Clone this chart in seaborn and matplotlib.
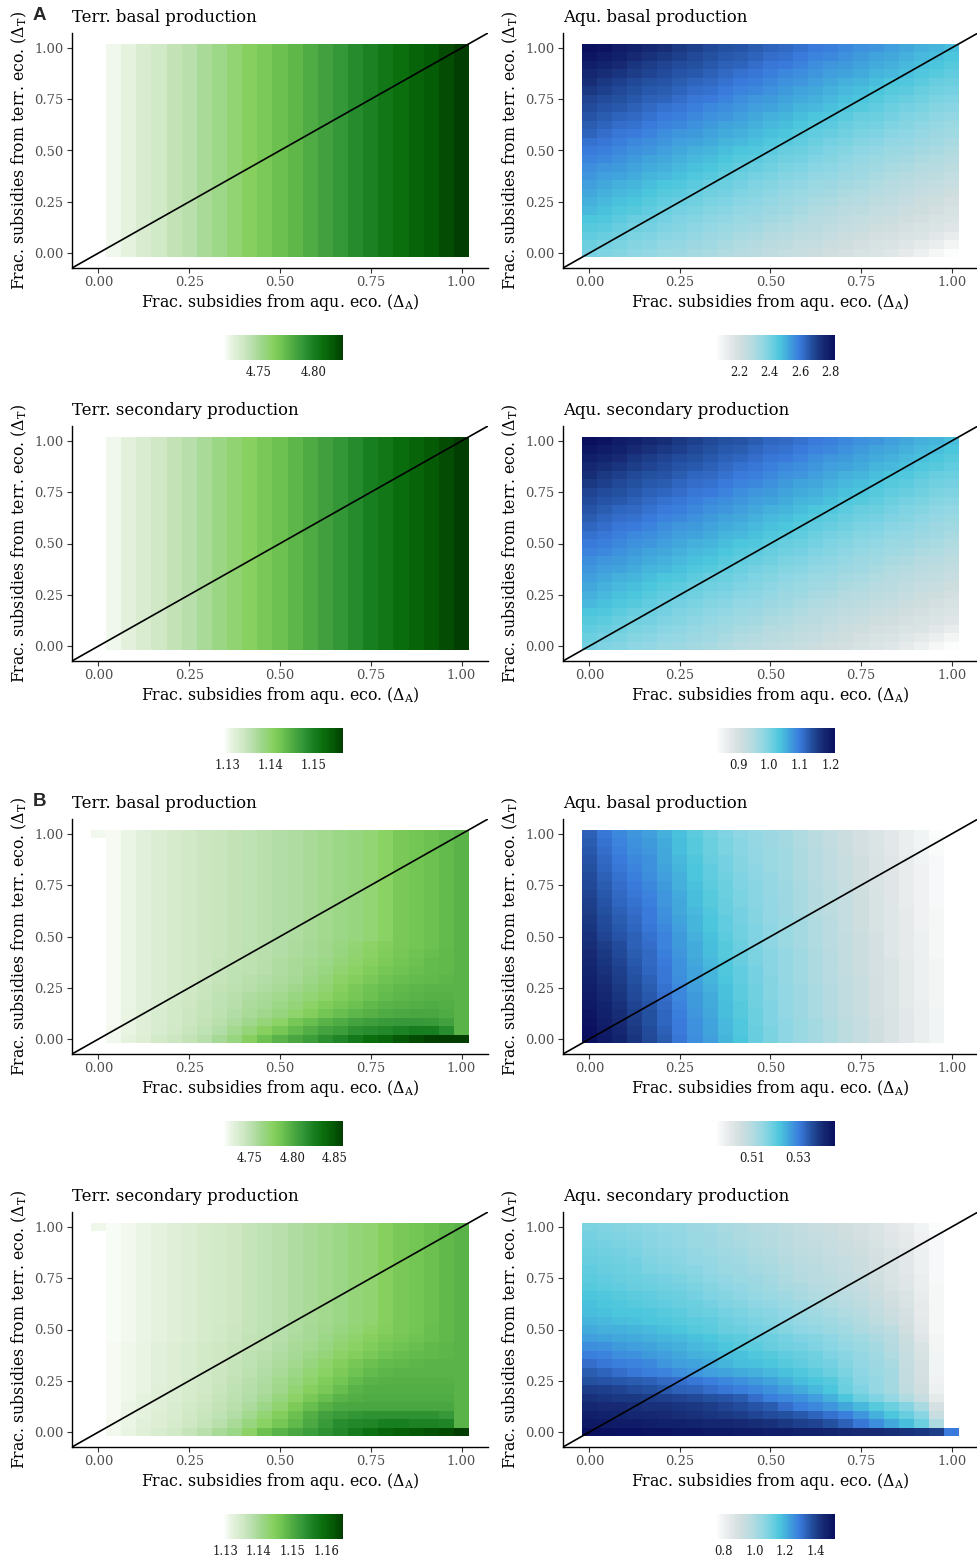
import numpy as np
import pandas as pd
import matplotlib
matplotlib.use("Agg")
import matplotlib.pyplot as plt
import seaborn as sns
from matplotlib.colors import LinearSegmentedColormap

NA = float("nan")

# ---------------- data ----------------
# grid of subsidy fractions (25 x 25 cells)
delta_A = [0.0, 0.042, 0.083, 0.125, 0.167, 0.208, 0.25, 0.292, 0.333, 0.375, 0.417, 0.458, 0.5,
           0.542, 0.583, 0.625, 0.667, 0.708, 0.75, 0.792, 0.833, 0.875, 0.917, 0.958, 1.0]
delta_T = list(delta_A)
axis_ticks = [0.0, 0.25, 0.5, 0.75, 1.0]
axis_tick_labels = ["0.00", "0.25", "0.50", "0.75", "1.00"]

# A - Terr. production: depends on Delta_A only (one value per column)
A_terr_basal_cols = [4.717, 4.722, 4.726, 4.731, 4.735, 4.740, 4.744, 4.749, 4.753, 4.758, 4.763, 4.767, 4.772,
                     4.776, 4.781, 4.785, 4.790, 4.795, 4.799, 4.804, 4.808, 4.813, 4.817, 4.822, 4.827]
A_terr_secondary_cols = [1.1290, 1.1302, 1.1313, 1.1325, 1.1336, 1.1348, 1.1359, 1.1371, 1.1382, 1.1394, 1.1405,
                         1.1417, 1.1428, 1.1440, 1.1452, 1.1463, 1.1475, 1.1486, 1.1498, 1.1509, 1.1521, 1.1532,
                         1.1544, 1.1555, 1.1567]

# remaining panels: level read from the colour (0 = colourbar minimum, 100 = maximum),
# rows listed from Delta_T = 1.00 (top) down to Delta_T = 0.00 (bottom)
A_aqu_levels = [
    [100, 98, 95, 93, 91, 89, 86, 84, 82, 80, 79, 77, 75, 74, 72, 70, 69, 67, 65, 64, 62, 60, 58, 57, 55],
    [97, 95, 93, 90, 88, 86, 84, 82, 80, 78, 77, 75, 73, 72, 70, 68, 67, 65, 63, 61, 60, 58, 56, 55, 53],
    [94, 92, 90, 87, 85, 83, 81, 80, 78, 76, 75, 73, 71, 70, 68, 66, 64, 63, 61, 59, 58, 56, 54, 53, 51],
    [91, 89, 87, 85, 83, 81, 79, 78, 76, 74, 72, 71, 69, 67, 66, 64, 62, 61, 59, 57, 56, 54, 52, 51, 49],
    [89, 86, 84, 82, 80, 79, 77, 75, 74, 72, 70, 69, 67, 65, 64, 62, 60, 58, 57, 55, 53, 52, 50, 48, 47],
    [86, 84, 82, 80, 78, 77, 75, 73, 72, 70, 68, 67, 65, 63, 61, 60, 58, 56, 55, 53, 51, 50, 48, 46, 45],
    [83, 81, 80, 78, 76, 75, 73, 71, 70, 68, 66, 64, 63, 61, 59, 58, 56, 54, 53, 51, 49, 48, 46, 44, 43],
    [81, 79, 78, 76, 74, 72, 71, 69, 67, 66, 64, 62, 61, 59, 57, 56, 54, 52, 51, 49, 47, 45, 44, 42, 41],
    [79, 77, 75, 74, 72, 70, 69, 67, 65, 64, 62, 60, 58, 57, 55, 53, 52, 50, 48, 47, 45, 43, 42, 40, 39],
    [77, 75, 73, 72, 70, 68, 67, 65, 63, 61, 60, 58, 56, 55, 53, 51, 50, 48, 46, 45, 43, 42, 40, 38, 37],
    [75, 73, 71, 70, 68, 66, 64, 63, 61, 59, 58, 56, 54, 53, 51, 49, 48, 46, 44, 43, 41, 40, 38, 36, 35],
    [72, 71, 69, 67, 66, 64, 62, 61, 59, 57, 56, 54, 52, 51, 49, 47, 45, 44, 42, 41, 39, 38, 36, 35, 33],
    [70, 69, 67, 65, 64, 62, 60, 58, 57, 55, 53, 52, 50, 48, 47, 45, 43, 42, 40, 39, 37, 36, 34, 33, 31],
    [68, 67, 65, 63, 61, 60, 58, 56, 55, 53, 51, 50, 48, 46, 45, 43, 42, 40, 38, 37, 35, 34, 32, 31, 29],
    [66, 64, 63, 61, 59, 58, 56, 54, 53, 51, 49, 48, 46, 44, 43, 41, 40, 38, 36, 35, 33, 32, 30, 29, 27],
    [64, 62, 61, 59, 57, 56, 54, 52, 51, 49, 47, 45, 44, 42, 41, 39, 38, 36, 35, 33, 31, 30, 28, 27, 25],
    [62, 60, 58, 57, 55, 53, 52, 50, 48, 47, 45, 43, 42, 40, 39, 37, 36, 34, 33, 31, 29, 28, 26, 25, 23],
    [60, 58, 56, 55, 53, 51, 50, 48, 46, 45, 43, 42, 40, 38, 37, 35, 34, 32, 31, 29, 28, 26, 24, 23, 21],
    [58, 56, 54, 53, 51, 49, 48, 46, 44, 43, 41, 40, 38, 36, 35, 33, 32, 30, 29, 27, 26, 24, 22, 21, 19],
    [56, 54, 52, 51, 49, 47, 45, 44, 42, 41, 39, 38, 36, 35, 33, 31, 30, 28, 27, 25, 24, 22, 21, 19, 17],
    [53, 52, 50, 48, 47, 45, 43, 42, 40, 39, 37, 36, 34, 33, 31, 29, 28, 26, 25, 23, 22, 20, 19, 17, 15],
    [51, 50, 48, 46, 45, 43, 42, 40, 38, 37, 35, 34, 32, 31, 29, 28, 26, 24, 23, 21, 20, 18, 17, 15, 13],
    [49, 48, 46, 44, 43, 41, 40, 38, 36, 35, 33, 32, 30, 29, 27, 26, 24, 22, 21, 19, 18, 16, 15, 12, 9],
    [47, 45, 44, 42, 41, 39, 38, 36, 35, 33, 31, 30, 28, 27, 25, 24, 22, 21, 19, 17, 16, 14, 11, 8, 4],
    [45, 43, 42, 40, 39, 37, 36, 34, 33, 31, 29, 28, 26, 25, 23, 22, 20, 19, 17, 15, 14, 10, 7, 3, 0],
]

B_terr_basal_levels = [
    [4, 3, 6, 9, 12, 14, 16, 18, 19, 21, 22, 24, 26, 27, 29, 31, 33, 35, 37, 41, 46, 48, 50, 52, 55],
    [0, 3, 6, 9, 12, 14, 16, 18, 19, 21, 22, 24, 26, 27, 29, 31, 33, 35, 37, 41, 46, 48, 50, 52, 55],
    [0, 3, 6, 9, 12, 14, 16, 18, 19, 21, 22, 24, 26, 27, 29, 31, 33, 35, 37, 41, 46, 48, 50, 52, 55],
    [0, 3, 6, 9, 12, 14, 16, 18, 19, 21, 22, 24, 26, 27, 29, 31, 33, 35, 37, 41, 46, 48, 50, 52, 55],
    [0, 3, 6, 9, 12, 14, 16, 18, 19, 21, 22, 24, 26, 27, 29, 31, 33, 35, 37, 41, 46, 48, 50, 52, 55],
    [0, 3, 6, 9, 12, 14, 16, 18, 19, 21, 22, 24, 26, 27, 29, 31, 33, 35, 37, 41, 46, 48, 50, 52, 55],
    [0, 3, 6, 9, 12, 14, 16, 18, 19, 21, 22, 24, 26, 27, 29, 31, 33, 35, 37, 41, 46, 48, 50, 52, 55],
    [0, 3, 6, 9, 12, 14, 16, 18, 19, 21, 22, 24, 26, 27, 29, 31, 33, 35, 37, 41, 46, 48, 50, 52, 55],
    [0, 3, 6, 9, 12, 14, 16, 18, 19, 21, 22, 24, 26, 27, 29, 31, 33, 35, 37, 41, 46, 48, 50, 52, 55],
    [0, 3, 6, 9, 12, 14, 16, 18, 19, 21, 22, 24, 26, 27, 29, 31, 33, 35, 37, 41, 46, 48, 50, 52, 55],
    [0, 3, 6, 9, 12, 14, 16, 18, 19, 21, 22, 24, 26, 27, 29, 31, 33, 35, 37, 41, 46, 48, 50, 52, 55],
    [0, 3, 6, 9, 12, 14, 16, 18, 19, 21, 22, 24, 26, 27, 29, 31, 33, 35, 37, 41, 46, 48, 50, 52, 55],
    [0, 3, 6, 9, 12, 14, 16, 18, 19, 21, 22, 24, 26, 27, 29, 31, 33, 35, 37, 41, 46, 48, 50, 52, 55],
    [0, 3, 6, 9, 12, 14, 16, 18, 19, 21, 22, 24, 26, 28, 30, 32, 34, 37, 40, 43, 46, 48, 50, 52, 55],
    [0, 3, 6, 9, 12, 14, 16, 18, 19, 21, 23, 24, 26, 28, 30, 32, 35, 38, 41, 44, 47, 49, 51, 53, 55],
    [0, 3, 6, 9, 12, 14, 16, 18, 20, 21, 23, 25, 27, 29, 31, 33, 36, 39, 42, 45, 48, 50, 52, 53, 55],
    [0, 3, 6, 9, 12, 14, 16, 18, 20, 22, 23, 25, 27, 29, 32, 34, 38, 41, 44, 47, 49, 51, 52, 53, 55],
    [0, 3, 6, 9, 12, 14, 16, 18, 20, 22, 24, 26, 28, 30, 33, 36, 40, 43, 46, 49, 51, 52, 53, 54, 55],
    [0, 3, 6, 9, 12, 14, 16, 19, 21, 23, 25, 27, 29, 32, 35, 38, 42, 46, 49, 51, 53, 54, 55, 55, 55],
    [0, 3, 6, 9, 12, 14, 17, 19, 22, 24, 27, 29, 31, 34, 37, 40, 44, 47, 50, 52, 54, 55, 56, 56, 55],
    [0, 3, 6, 9, 12, 15, 17, 20, 22, 25, 28, 30, 33, 36, 40, 44, 47, 50, 53, 55, 56, 57, 58, 57, 55],
    [0, 3, 7, 10, 13, 15, 18, 20, 23, 26, 29, 32, 35, 39, 43, 48, 51, 54, 56, 58, 59, 60, 60, 58, 55],
    [0, 3, 7, 10, 13, 15, 18, 21, 24, 28, 32, 36, 40, 47, 51, 55, 58, 61, 63, 65, 66, 66, 65, 62, 55],
    [0, 4, 7, 10, 13, 16, 19, 22, 26, 31, 36, 42, 47, 52, 57, 61, 64, 68, 70, 72, 74, 76, 75, 70, 55],
    [0, 4, 8, 11, 15, 18, 21, 25, 30, 35, 42, 50, 55, 60, 64, 69, 73, 78, 83, 86, 92, 96, 99, 100, 100],
]

B_terr_secondary_levels = [
    [5, 2, 4, 6, 8, 10, 12, 14, 15, 17, 20, 22, 24, 27, 29, 31, 33, 36, 38, 42, 46, 48, 50, 53, 55],
    [0, 2, 4, 6, 8, 10, 12, 14, 15, 17, 20, 22, 24, 27, 29, 31, 33, 36, 38, 42, 46, 48, 50, 53, 55],
    [0, 2, 4, 6, 8, 10, 12, 14, 15, 17, 20, 22, 24, 27, 29, 31, 33, 36, 38, 42, 46, 48, 50, 53, 55],
    [0, 2, 4, 6, 8, 10, 12, 14, 15, 17, 20, 22, 24, 27, 29, 31, 33, 36, 38, 42, 46, 48, 50, 53, 55],
    [0, 2, 4, 6, 8, 10, 12, 14, 15, 17, 20, 22, 24, 27, 29, 31, 33, 36, 38, 42, 46, 48, 50, 53, 55],
    [0, 2, 4, 6, 8, 10, 12, 14, 15, 17, 20, 22, 24, 27, 29, 31, 33, 36, 38, 42, 46, 48, 50, 53, 55],
    [0, 2, 4, 6, 8, 10, 12, 14, 15, 17, 20, 22, 24, 27, 29, 31, 33, 36, 38, 42, 46, 48, 50, 53, 55],
    [0, 2, 4, 6, 8, 10, 12, 14, 15, 17, 20, 22, 24, 27, 29, 31, 33, 36, 38, 42, 46, 48, 50, 53, 55],
    [0, 2, 4, 6, 8, 10, 12, 14, 15, 17, 20, 22, 24, 27, 29, 31, 33, 36, 38, 42, 46, 48, 50, 53, 55],
    [0, 2, 4, 6, 8, 10, 12, 14, 15, 17, 20, 22, 24, 27, 29, 31, 33, 36, 38, 42, 46, 48, 50, 53, 55],
    [0, 2, 4, 6, 8, 10, 12, 14, 15, 17, 20, 22, 24, 27, 29, 31, 33, 36, 38, 42, 46, 48, 50, 53, 55],
    [0, 2, 4, 6, 8, 10, 12, 14, 15, 17, 20, 22, 24, 27, 29, 31, 33, 36, 38, 42, 46, 48, 50, 53, 55],
    [0, 2, 4, 6, 8, 10, 12, 14, 16, 18, 20, 22, 25, 27, 30, 32, 34, 37, 40, 43, 46, 48, 51, 53, 55],
    [0, 2, 4, 6, 8, 10, 12, 14, 16, 18, 21, 23, 25, 28, 30, 33, 36, 39, 42, 45, 47, 49, 51, 53, 55],
    [0, 3, 5, 7, 9, 11, 13, 15, 17, 19, 21, 23, 26, 29, 31, 34, 38, 41, 44, 47, 49, 51, 53, 54, 55],
    [0, 3, 5, 7, 9, 11, 13, 15, 17, 19, 22, 24, 27, 30, 33, 36, 40, 43, 46, 49, 51, 52, 53, 54, 55],
    [0, 3, 5, 7, 9, 11, 13, 15, 17, 20, 22, 25, 28, 31, 35, 39, 43, 47, 50, 52, 53, 54, 55, 55, 55],
    [0, 3, 5, 7, 9, 11, 13, 16, 18, 20, 23, 26, 29, 33, 37, 41, 45, 49, 52, 54, 55, 55, 55, 55, 55],
    [0, 3, 5, 7, 9, 11, 14, 16, 18, 21, 24, 27, 31, 35, 39, 44, 48, 52, 55, 56, 56, 56, 56, 56, 55],
    [0, 3, 5, 7, 10, 12, 14, 16, 19, 22, 25, 28, 32, 37, 42, 46, 51, 55, 57, 57, 57, 57, 57, 57, 55],
    [0, 3, 5, 8, 10, 12, 14, 17, 20, 23, 26, 30, 35, 40, 46, 51, 55, 57, 58, 58, 58, 58, 58, 58, 55],
    [0, 3, 6, 8, 10, 13, 15, 18, 21, 24, 28, 33, 38, 45, 51, 56, 59, 60, 60, 60, 60, 60, 60, 60, 55],
    [0, 3, 6, 8, 11, 13, 16, 19, 22, 26, 31, 37, 43, 50, 57, 62, 65, 67, 68, 68, 68, 68, 68, 66, 55],
    [0, 4, 6, 9, 11, 14, 17, 20, 24, 29, 35, 41, 47, 53, 59, 65, 70, 72, 73, 75, 75, 74, 74, 73, 55],
    [0, 4, 7, 10, 13, 16, 20, 24, 29, 33, 40, 50, 55, 60, 64, 68, 72, 77, 82, 86, 89, 92, 94, 96, 100],
]

B_aqu_basal_levels = [
    [76, 71, 67, 64, 62, 58, 54, 50, 46, 43, 40, 38, 36, 34, 31, 28, 25, 22, 19, 15, 12, 8, 5, 0, NA],
    [77, 72, 68, 65, 63, 59, 55, 51, 47, 44, 41, 38, 36, 34, 31, 28, 25, 22, 19, 15, 12, 8, 5, 1, NA],
    [78, 73, 69, 66, 64, 60, 55, 51, 47, 44, 41, 39, 37, 35, 32, 29, 26, 22, 19, 15, 12, 8, 5, 1, NA],
    [79, 74, 70, 67, 65, 60, 56, 52, 48, 45, 42, 39, 37, 35, 32, 29, 26, 23, 20, 16, 13, 9, 5, 2, NA],
    [80, 75, 71, 68, 65, 61, 57, 53, 49, 45, 42, 40, 37, 35, 32, 29, 26, 23, 20, 16, 13, 9, 6, 2, NA],
    [81, 76, 72, 69, 66, 62, 58, 53, 49, 46, 43, 40, 38, 35, 32, 29, 26, 23, 20, 16, 13, 9, 6, 2, NA],
    [82, 77, 73, 70, 67, 63, 58, 54, 50, 47, 43, 41, 38, 36, 33, 30, 27, 23, 20, 16, 13, 9, 6, 2, NA],
    [83, 78, 74, 71, 68, 64, 59, 55, 51, 47, 44, 41, 38, 36, 33, 30, 27, 24, 21, 17, 13, 9, 6, 2, NA],
    [84, 79, 75, 72, 69, 64, 60, 55, 51, 48, 44, 41, 39, 36, 33, 30, 27, 24, 21, 17, 13, 9, 6, 2, NA],
    [85, 80, 76, 73, 70, 65, 60, 56, 52, 48, 45, 42, 39, 36, 33, 30, 27, 24, 21, 17, 14, 10, 6, 3, NA],
    [86, 81, 77, 74, 70, 66, 61, 57, 53, 49, 45, 42, 39, 37, 34, 31, 28, 24, 21, 17, 14, 10, 6, 3, NA],
    [87, 82, 78, 75, 71, 67, 62, 57, 53, 49, 46, 43, 40, 37, 34, 31, 28, 24, 21, 17, 14, 10, 6, 3, NA],
    [88, 83, 79, 76, 72, 68, 63, 58, 54, 50, 46, 43, 40, 37, 34, 31, 28, 25, 22, 18, 14, 10, 7, 3, NA],
    [89, 85, 81, 76, 73, 68, 63, 59, 55, 51, 47, 43, 40, 37, 34, 31, 28, 25, 22, 18, 14, 10, 7, 3, NA],
    [90, 86, 82, 77, 74, 69, 64, 59, 55, 51, 48, 44, 41, 38, 35, 32, 29, 25, 22, 18, 14, 10, 7, 3, NA],
    [91, 87, 83, 78, 74, 70, 65, 60, 56, 52, 48, 44, 41, 38, 35, 32, 29, 25, 22, 18, 15, 11, 7, 4, NA],
    [92, 88, 84, 79, 75, 71, 65, 61, 57, 52, 49, 45, 41, 38, 35, 32, 29, 25, 22, 18, 15, 11, 7, 4, NA],
    [93, 89, 85, 80, 76, 71, 66, 61, 57, 53, 49, 45, 42, 38, 35, 32, 29, 26, 23, 19, 15, 11, 7, 4, NA],
    [94, 90, 86, 81, 77, 72, 67, 62, 58, 54, 50, 46, 42, 39, 36, 33, 30, 26, 23, 19, 15, 11, 7, 4, NA],
    [95, 91, 87, 82, 78, 73, 67, 63, 59, 54, 50, 46, 42, 39, 36, 33, 30, 26, 23, 19, 15, 11, 7, 4, NA],
    [96, 92, 88, 83, 79, 74, 68, 63, 59, 55, 51, 46, 43, 39, 36, 33, 30, 26, 23, 19, 15, 11, 8, 4, NA],
    [97, 93, 89, 84, 80, 75, 69, 64, 60, 55, 51, 47, 43, 39, 36, 33, 30, 26, 23, 19, 16, 12, 8, 5, NA],
    [98, 94, 90, 85, 80, 75, 70, 65, 61, 56, 52, 47, 43, 40, 37, 34, 31, 27, 24, 20, 16, 12, 8, 5, NA],
    [99, 95, 91, 86, 81, 76, 70, 65, 61, 56, 52, 48, 44, 40, 37, 34, 31, 27, 24, 20, 16, 12, 8, 5, NA],
    [100, 96, 92, 87, 82, 77, 71, 66, 62, 57, 53, 48, 44, 40, 37, 34, 31, 27, 24, 20, 16, 12, 8, 5, NA],
]

B_aqu_secondary_levels = [
    [44, 43, 42, 41, 40, 39, 38, 36, 35, 33, 32, 30, 29, 27, 25, 23, 22, 20, 18, 15, 12, 9, 5, 0, NA],
    [45, 44, 43, 42, 41, 40, 39, 37, 36, 34, 32, 31, 30, 28, 26, 24, 23, 21, 19, 16, 13, 10, 6, 2, NA],
    [46, 45, 44, 43, 41, 40, 39, 37, 36, 34, 33, 31, 30, 28, 26, 25, 23, 22, 20, 17, 14, 11, 6, 2, NA],
    [47, 46, 45, 44, 42, 41, 40, 38, 37, 35, 34, 32, 31, 29, 27, 26, 24, 22, 21, 18, 15, 12, 7, 2, NA],
    [48, 47, 46, 45, 43, 42, 41, 39, 38, 36, 35, 33, 32, 30, 28, 27, 25, 24, 22, 19, 15, 12, 7, 2, NA],
    [49, 48, 47, 46, 44, 43, 42, 41, 39, 37, 36, 34, 33, 31, 29, 28, 26, 24, 22, 19, 16, 12, 7, 2, NA],
    [50, 49, 48, 47, 46, 45, 44, 42, 40, 39, 37, 36, 34, 32, 30, 28, 27, 25, 23, 20, 16, 13, 8, 2, NA],
    [51, 50, 49, 48, 47, 46, 45, 44, 42, 40, 39, 37, 35, 33, 32, 30, 28, 26, 24, 21, 17, 14, 8, 3, NA],
    [53, 52, 51, 50, 49, 48, 47, 45, 43, 42, 40, 38, 37, 35, 33, 31, 30, 28, 26, 22, 19, 15, 9, 3, NA],
    [54, 53, 52, 51, 50, 49, 48, 47, 45, 43, 42, 40, 39, 37, 35, 33, 31, 29, 27, 24, 20, 16, 10, 3, NA],
    [55, 54, 53, 53, 52, 51, 50, 48, 47, 45, 44, 42, 41, 39, 37, 35, 33, 31, 29, 25, 22, 18, 10, 3, NA],
    [57, 56, 55, 54, 53, 52, 51, 50, 49, 47, 45, 44, 42, 40, 38, 37, 35, 33, 31, 27, 23, 19, 11, 3, NA],
    [59, 58, 58, 57, 56, 54, 53, 51, 50, 48, 47, 45, 44, 42, 40, 39, 37, 35, 32, 30, 27, 20, 12, 3, NA],
    [62, 61, 60, 59, 58, 57, 56, 54, 53, 51, 50, 48, 47, 45, 43, 42, 40, 37, 35, 32, 29, 22, 13, 4, NA],
    [66, 65, 63, 62, 61, 59, 58, 56, 55, 53, 51, 50, 48, 46, 45, 43, 41, 39, 37, 34, 30, 23, 16, 4, NA],
    [69, 68, 66, 65, 63, 62, 60, 58, 57, 55, 54, 52, 51, 49, 48, 46, 43, 41, 38, 35, 31, 24, 17, 5, NA],
    [73, 71, 69, 68, 67, 64, 62, 61, 59, 57, 55, 54, 53, 51, 49, 47, 45, 42, 39, 36, 33, 24, 18, 5, NA],
    [77, 75, 73, 71, 69, 68, 66, 64, 62, 61, 59, 58, 56, 54, 52, 50, 47, 44, 40, 37, 34, 25, 18, 5, NA],
    [80, 79, 78, 77, 76, 74, 73, 71, 69, 67, 65, 63, 61, 58, 55, 53, 51, 46, 41, 38, 34, 25, 19, 6, NA],
    [85, 84, 83, 81, 80, 78, 76, 75, 73, 71, 69, 67, 65, 62, 59, 56, 53, 47, 43, 38, 34, 26, 20, 7, NA],
    [88, 87, 86, 86, 85, 84, 83, 82, 80, 79, 77, 73, 69, 67, 65, 62, 58, 53, 47, 43, 38, 31, 23, 11, NA],
    [91, 90, 90, 89, 88, 88, 87, 86, 85, 83, 81, 79, 77, 73, 69, 67, 64, 60, 56, 51, 47, 42, 33, 18, NA],
    [94, 93, 92, 91, 91, 90, 89, 88, 87, 86, 85, 83, 81, 80, 78, 75, 72, 69, 64, 58, 53, 48, 41, 23, NA],
    [96, 96, 95, 95, 94, 93, 93, 92, 91, 91, 90, 89, 88, 86, 84, 83, 80, 76, 71, 66, 60, 55, 47, 32, NA],
    [100, 100, 99, 99, 98, 98, 97, 97, 96, 96, 95, 95, 94, 94, 93, 93, 92, 91, 90, 90, 89, 88, 87, 85, 70],
]

# colourbar ranges (min, max) read from the legends
A_aqu_basal_range = (2.054, 2.828)
A_aqu_secondary_range = (0.832, 1.213)
B_terr_basal_range = (4.718, 4.860)
B_aqu_basal_range = (0.495, 0.546)
B_terr_secondary_range = (1.1294, 1.1648)
B_aqu_secondary_range = (0.757, 1.523)

# colourbar breaks
A_terr_basal_breaks = [4.75, 4.80]
A_aqu_basal_breaks = [2.2, 2.4, 2.6, 2.8]
A_terr_secondary_breaks = [1.13, 1.14, 1.15]
A_aqu_secondary_breaks = [0.9, 1.0, 1.1, 1.2]
B_terr_basal_breaks = [4.75, 4.80, 4.85]
B_aqu_basal_breaks = [0.51, 0.53]
B_terr_secondary_breaks = [1.13, 1.14, 1.15, 1.16]
B_aqu_secondary_breaks = [0.8, 1.0, 1.2, 1.4]

titles = ["Terr. basal production", "Aqu. basal production",
          "Terr. secondary production", "Aqu. secondary production"]
panel_letters = ["A", "B"]
x_label = r"Frac. subsidies from aqu. eco. ($\Delta_{\mathrm{A}}$)"
y_label = r"Frac. subsidies from terr. eco. ($\Delta_{\mathrm{T}}$)"


# ---------------- helpers ----------------
def from_levels(levels, rng):
    lo, hi = rng
    return lo + np.array(levels, dtype=float) / 100.0 * (hi - lo)


green_cmap = LinearSegmentedColormap.from_list("greens_custom", [
    (0.000, "#ffffff"), (0.083, "#e3f1dc"), (0.167, "#cfe8c4"), (0.250, "#b6deaa"),
    (0.333, "#9bd685"), (0.417, "#88d160"), (0.500, "#6cc150"), (0.583, "#4eaa43"),
    (0.667, "#339637"), (0.750, "#198022"), (0.833, "#0a6e0d"), (0.917, "#055a05"),
    (1.000, "#023d02")])
blue_cmap = LinearSegmentedColormap.from_list("blues_custom", [
    (0.00, "#fbfcfc"), (0.10, "#e6eaeb"), (0.20, "#d0dedf"), (0.30, "#b4dbe1"),
    (0.40, "#8ed6e3"), (0.47, "#6ccfe0"), (0.53, "#4cc6dc"), (0.60, "#42a8dc"),
    (0.70, "#3a7bdc"), (0.80, "#2450a0"), (0.90, "#162a72"), (1.00, "#0a0f5e")])

panels = [
    # (row, col, values top->bottom, cmap, breaks, fmt, title)
    (0, 0, np.array([A_terr_basal_cols] * len(delta_T)), green_cmap, A_terr_basal_breaks, "{:.2f}", titles[0]),
    (0, 1, from_levels(A_aqu_levels, A_aqu_basal_range), blue_cmap, A_aqu_basal_breaks, "{:.1f}", titles[1]),
    (1, 0, np.array([A_terr_secondary_cols] * len(delta_T)), green_cmap, A_terr_secondary_breaks, "{:.2f}", titles[2]),
    (1, 1, from_levels(A_aqu_levels, A_aqu_secondary_range), blue_cmap, A_aqu_secondary_breaks, "{:.1f}", titles[3]),
    (2, 0, from_levels(B_terr_basal_levels, B_terr_basal_range), green_cmap, B_terr_basal_breaks, "{:.2f}", titles[0]),
    (2, 1, from_levels(B_aqu_basal_levels, B_aqu_basal_range), blue_cmap, B_aqu_basal_breaks, "{:.2f}", titles[1]),
    (3, 0, from_levels(B_terr_secondary_levels, B_terr_secondary_range), green_cmap, B_terr_secondary_breaks, "{:.2f}", titles[2]),
    (3, 1, from_levels(B_aqu_secondary_levels, B_aqu_secondary_range), blue_cmap, B_aqu_secondary_breaks, "{:.1f}", titles[3]),
]

# ---------------- figure ----------------
sns.set_theme(style="white")
plt.rcParams["font.family"] = ["DejaVu Serif"]
plt.rcParams["mathtext.fontset"] = "dejavuserif"

W, H = 978.0, 1564.0
fig = plt.figure(figsize=(W / 100, H / 100), dpi=100)


def rect(x0, y0, x1, y1):
    return [x0 / W, 1 - y1 / H, (x1 - x0) / W, (y1 - y0) / H]


ROW_STEP = 393
ax_x = [(72, 488), (563, 978)]
cb_x = [(223, 343), (717, 835)]

for row, col, vals, cmap, breaks, fmt, title in panels:
    off = ROW_STEP * row
    ax = fig.add_axes(rect(ax_x[col][0], 33 + off, ax_x[col][1], 268 + off))
    cax = fig.add_axes(rect(cb_x[col][0], 335 + off, cb_x[col][1], 360 + off))

    df = pd.DataFrame(vals[::-1], index=delta_T, columns=delta_A)  # first row = Delta_T 0
    sns.heatmap(df, ax=ax, cmap=cmap, cbar_ax=cax,
                cbar_kws={"orientation": "horizontal"},
                xticklabels=False, yticklabels=False, linewidths=0)

    n = len(delta_A)
    pad = 0.05 * n
    ax.set_xlim(-pad, n + pad)
    ax.set_ylim(-pad, n + pad)
    pos = np.interp(axis_ticks, delta_A, np.arange(n)) + 0.5
    ax.set_xticks(pos)
    ax.set_xticklabels(axis_tick_labels)
    ax.set_yticks(pos)
    ax.set_yticklabels(axis_tick_labels)
    ax.tick_params(axis="both", which="major", direction="out", length=3.5, width=0.8,
                   color="#333333", labelcolor="#4d4d4d", labelsize=9.4,
                   bottom=True, left=True, top=False, right=False, pad=2.5)
    for s in ["left", "bottom"]:
        ax.spines[s].set_visible(True)
        ax.spines[s].set_color("black")
        ax.spines[s].set_linewidth(1.0)
    for s in ["top", "right"]:
        ax.spines[s].set_visible(False)

    # identity line Delta_T = Delta_A
    ax.axline((pos[0], pos[0]), slope=1, color="black", lw=1.2, clip_on=True)

    ax.set_xlabel(x_label, fontsize=11.3, labelpad=2, color="black")
    ax.set_ylabel(y_label, fontsize=11.3, labelpad=4, color="black")
    ax.set_title(title, loc="left", fontsize=11.9, pad=8, color="black")

    cb = ax.collections[0].colorbar
    cb.outline.set_visible(False)
    cb.set_ticks(breaks)
    cb.set_ticklabels([fmt.format(b) for b in breaks])
    cax.tick_params(axis="x", which="major", direction="in", length=4, width=0.8,
                    color="white", top=True, bottom=True, labeltop=False, labelbottom=True,
                    labelsize=8.4, labelcolor="#1a1a1a", pad=4)
    cax.tick_params(axis="x", which="minor", length=0)
    cax.tick_params(axis="y", left=False, right=False, labelleft=False, labelright=False)

for i, letter in enumerate(panel_letters):
    fig.text(33 / W, 1 - (16 + 2 * ROW_STEP * i) / H, letter, fontsize=13.5, fontweight="bold",
             family=["Liberation Sans", "DejaVu Sans"], va="center", ha="left")

fig.savefig("out.png", dpi=100)
